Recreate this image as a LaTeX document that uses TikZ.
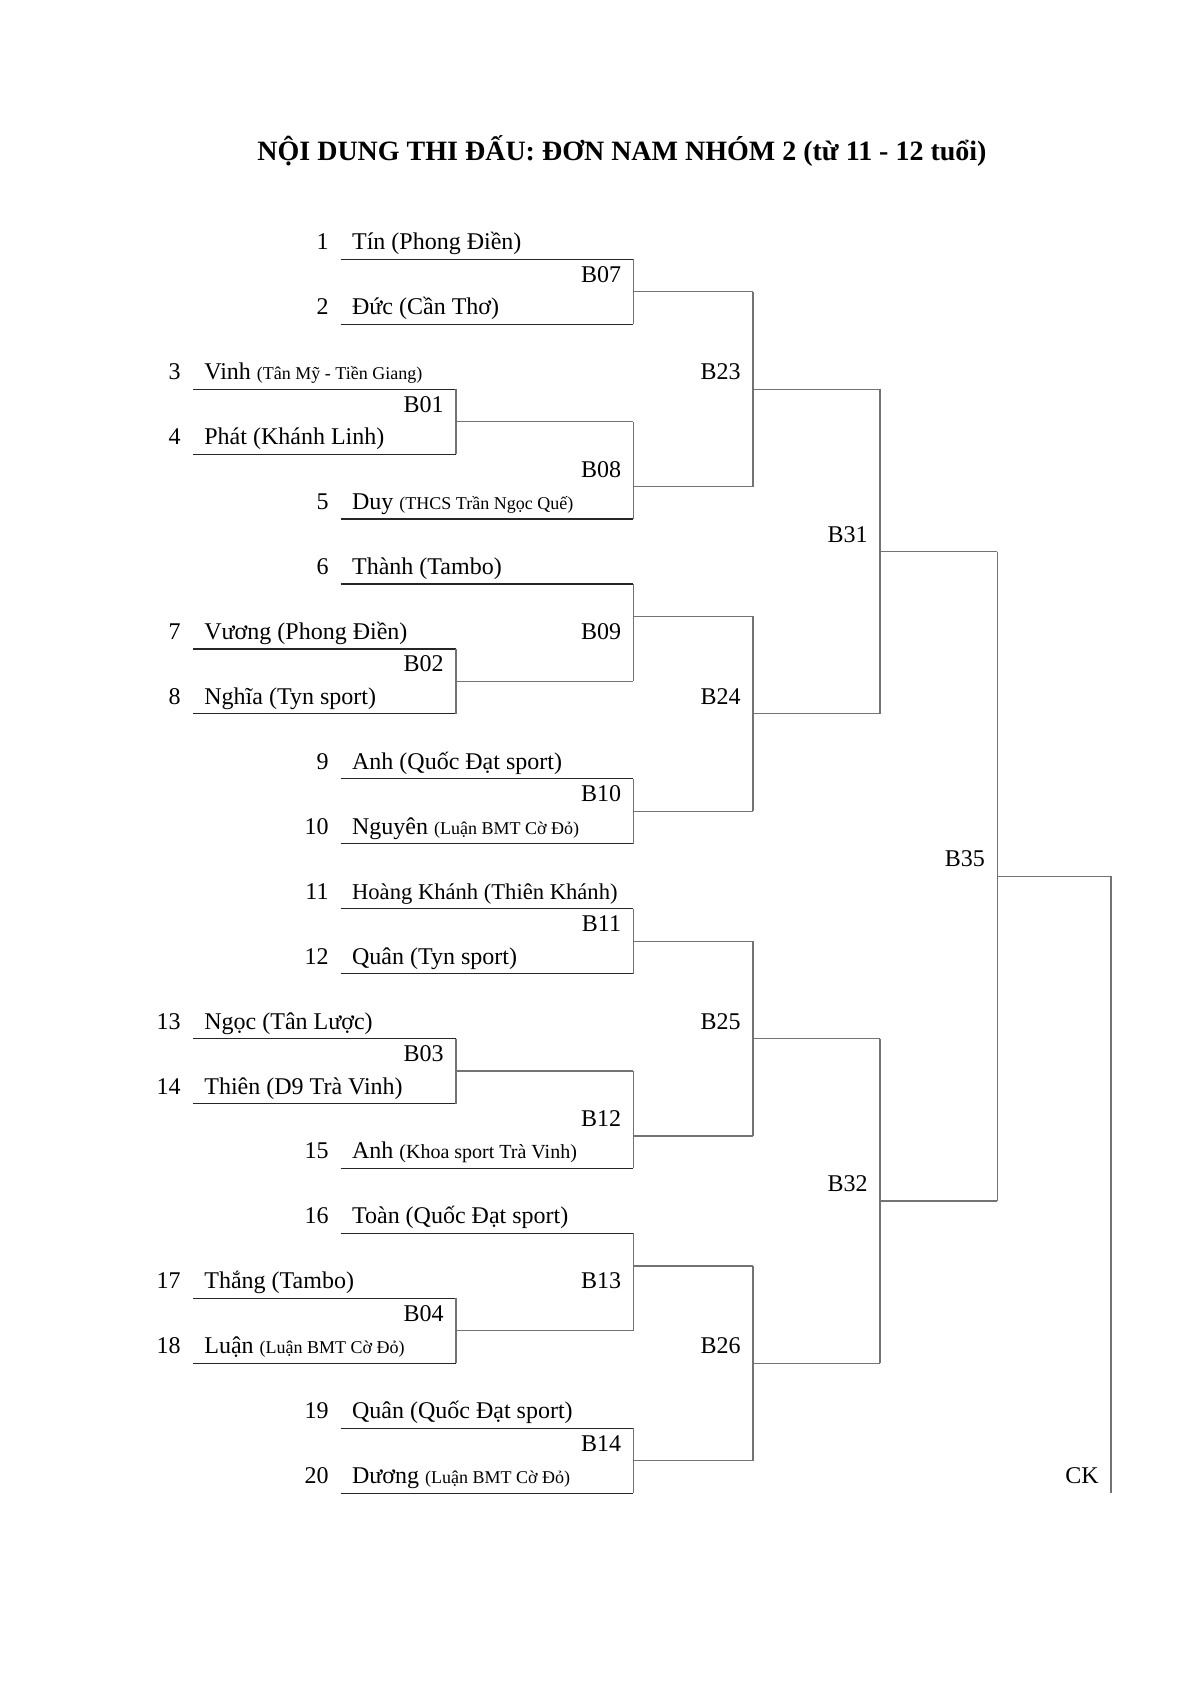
\documentclass[tikz,border=0pt]{standalone}
\usepackage{fontspec}
\setmainfont{Liberation Serif}
\tikzset{
  nm/.style={anchor=base west, inner sep=0pt, font=\fontsize{12}{14}\selectfont, yshift=4.75pt},
  num/.style={anchor=base east, inner sep=0pt, font=\fontsize{12}{14}\selectfont, yshift=4.75pt},
  mlab/.style={anchor=base east, inner sep=0pt, font=\fontsize{12}{14}\selectfont, yshift=4.75pt},
  ttl/.style={anchor=base, inner sep=0pt, font=\bfseries\fontsize{14}{17}\selectfont},
  entryline/.style={draw=black!85, line width=0.6pt},
  conn/.style={draw=black!55, line width=0.6pt},
}
\newcommand{\sm}[1]{{\fontsize{9}{11}\selectfont #1}}
% inner player: row, number, text
\newcommand{\pin}[3]{%
  \node[num] (n#2) at (329,#1) {#2};
  \node[nm] (p#2) at (351.7,#1) {#3};
  \coordinate (l#2a) at (340.7,#1);
  \coordinate (l#2b) at (633.4,#1);
  \draw[entryline] (l#2a) -- (l#2b);
}
% outer player: row, number, text
\newcommand{\pout}[3]{%
  \node[num] (n#2) at (181,#1) {#2};
  \node[nm] (p#2) at (204,#1) {#3};
  \coordinate (l#2a) at (193,#1);
  \coordinate (l#2b) at (456,#1);
  \draw[entryline] (l#2a) -- (l#2b);
}
% bracket: name, x, top row, bottom row, out row, next x, label row
\newcommand{\bkt}[7]{%
  \coordinate (#1t) at (#2,#3);
  \coordinate (#1b) at (#2,#4);
  \coordinate (#1o) at (#2,#5);
  \coordinate (#1n) at (#6,#5);
  \draw[conn] (#1t) -- (#1b);
  \draw[conn] (#1o) -- (#1n);
  \node[mlab] (#1lab) at (#2-12,#7) {#1};
}
\begin{document}
\begin{tikzpicture}[x=0.5pt,y=-16.235pt]
\useasboundingbox (0,-7.9858) rectangle (1190,43.846);
\fill[white] (0,-7.9858) rectangle (1190,43.846);

\node[ttl] (title) at (622,-3.058) {NỘI DUNG THI ĐẤU: ĐƠN NAM NHÓM 2 (từ 11 - 12 tuổi)};

\pin{0}{1}{Tín (Phong Điền)}
\pin{2}{2}{Đức (Cần Thơ)}
\pout{4}{3}{Vinh \sm{(Tân Mỹ - Tiền Giang)}}
\pout{6}{4}{Phát (Khánh Linh)}
\pin{8}{5}{Duy \sm{(THCS Trần Ngọc Quế)}}
\pin{10}{6}{Thành (Tambo)}
\pout{12}{7}{Vương (Phong Điền)}
\pout{14}{8}{Nghĩa (Tyn sport)}
\pin{16}{9}{Anh (Quốc Đạt sport)}
\pin{18}{10}{Nguyên \sm{(Luận BMT Cờ Đỏ)}}
\pin{20}{11}{{\fontsize{11.3}{13}\selectfont Hoàng Khánh (Thiên Khánh)}}
\pin{22}{12}{Quân (Tyn sport)}
\pout{24}{13}{Ngọc (Tân Lược)}
\pout{26}{14}{Thiên (D9 Trà Vinh)}
\pin{28}{15}{Anh {\fontsize{10}{12}\selectfont (Khoa sport Trà Vinh)}}
\pin{30}{16}{Toàn (Quốc Đạt sport)}
\pout{32}{17}{Thắng (Tambo)}
\pout{34}{18}{Luận \sm{(Luận BMT Cờ Đỏ)}}
\pin{36}{19}{Quân (Quốc Đạt sport)}
\pin{38}{20}{Dương \sm{(Luận BMT Cờ Đỏ)}}

% round 1 (left column)
\bkt{B01}{456}{4}{6}{5}{633.4}{5}
\bkt{B02}{456}{12}{14}{13}{633.4}{13}
\bkt{B03}{456}{24}{26}{25}{633.4}{25}
\bkt{B04}{456}{32}{34}{33}{633.4}{33}
% round 2
\bkt{B07}{633.4}{0}{2}{1}{753}{1}
\bkt{B08}{633.4}{5}{8}{7}{753}{7}
\bkt{B09}{633.4}{10}{13}{11}{753}{12}
\bkt{B10}{633.4}{16}{18}{17}{753}{17}
\bkt{B11}{633.4}{20}{22}{21}{753}{21}
\bkt{B12}{633.4}{25}{28}{27}{753}{27}
\bkt{B13}{633.4}{30}{33}{31}{753}{32}
\bkt{B14}{633.4}{36}{38}{37}{753}{37}
% round 3
\bkt{B23}{753}{1}{7}{4}{880}{4}
\bkt{B24}{753}{11}{17}{14}{880}{14}
\bkt{B25}{753}{21}{27}{24}{880}{24}
\bkt{B26}{753}{31}{37}{34}{880}{34}
% round 4
\bkt{B31}{880}{4}{14}{9}{997.3}{9}
\bkt{B32}{880}{24}{34}{29}{997.3}{29}
% semi
\bkt{B35}{997.3}{9}{29}{19}{1111}{19}
% final
\coordinate (CKt) at (1111,19);
\coordinate (CKb) at (1111,38);
\draw[conn] (CKt) -- (CKb);
\node[mlab] (CK) at (1099,38) {CK};
\end{tikzpicture}
\end{document}
